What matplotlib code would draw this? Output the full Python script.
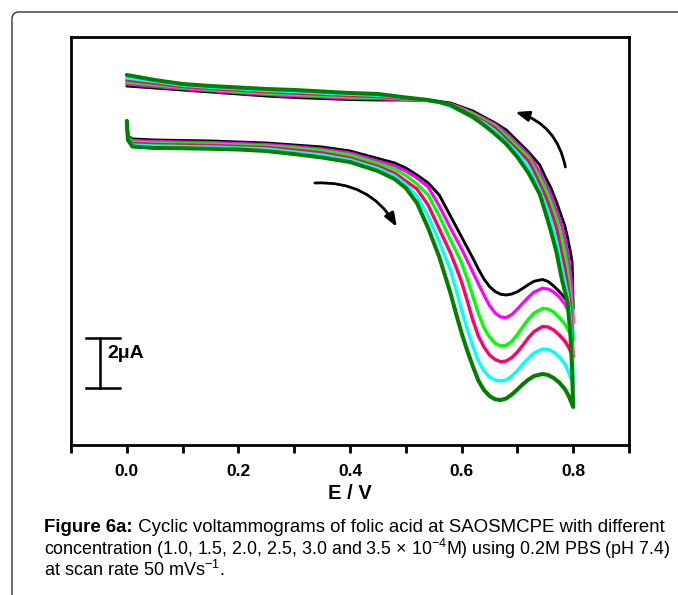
import matplotlib
matplotlib.use("Agg")
import matplotlib.pyplot as plt
from matplotlib.patches import FancyBboxPatch
from matplotlib.ticker import MultipleLocator

plt.rcParams['font.family'] = ['Liberation Sans', 'DejaVu Sans']
plt.rcParams['mathtext.fontset'] = 'custom'
plt.rcParams['mathtext.rm'] = 'Liberation Sans'
plt.rcParams['mathtext.default'] = 'regular'

# potential sweep (V): 0 -> 0.8 V (forward), then back to 0 V
E_scan = [0.0, 0.002, 0.01, 0.05, 0.1, 0.15, 0.2, 0.25, 0.3, 0.35, 0.4, 0.45, 0.48,
          0.5, 0.52, 0.54, 0.56, 0.58, 0.59, 0.60, 0.61, 0.62, 0.63, 0.64, 0.65,
          0.66, 0.67, 0.68, 0.69, 0.70, 0.71, 0.72, 0.73, 0.745, 0.755, 0.765,
          0.775, 0.785, 0.792, 0.80,
          0.798, 0.795, 0.79, 0.785, 0.78, 0.77, 0.76, 0.75, 0.74, 0.72, 0.70,
          0.68, 0.66, 0.64, 0.62, 0.60, 0.58, 0.56, 0.54, 0.50, 0.45, 0.40, 0.35,
          0.30, 0.25, 0.20, 0.15, 0.10, 0.05, 0.0]

# folic acid concentration (x 10^-4 M)
conc = [1.0, 1.5, 2.0, 2.5, 3.0, 3.5]

# current (uA, arbitrary offset) for each concentration
I_1_0 = [12.96, 12.36, 12.24, 12.20, 12.18, 12.16, 12.12, 12.08, 12.00, 11.92, 11.76, 11.46, 11.28,
         11.08, 10.80, 10.48, 10.00, 9.16, 8.74, 8.32, 7.90, 7.48, 7.04, 6.64, 6.34,
         6.14, 6.03, 6.00, 6.04, 6.13, 6.27, 6.42, 6.55, 6.62, 6.54, 6.36,
         6.14, 5.88, 5.70, 5.48,
         7.32, 7.72, 8.28, 8.76, 9.08, 9.72, 10.28, 10.72, 11.20, 11.72, 12.16,
         12.60, 12.88, 13.12, 13.36, 13.52, 13.68, 13.74, 13.78, 13.80, 13.80, 13.82, 13.86,
         13.90, 13.96, 14.04, 14.12, 14.20, 14.28, 14.36]
I_1_5 = [12.96, 12.32, 12.18, 12.14, 12.12, 12.10, 12.06, 12.02, 11.94, 11.84, 11.68, 11.36, 11.16,
         10.96, 10.68, 10.32, 9.56, 8.68, 8.26, 7.84, 7.38, 6.92, 6.45, 6.00, 5.58,
         5.28, 5.12, 5.10, 5.22, 5.44, 5.68, 5.92, 6.12, 6.27, 6.24, 6.12,
         5.92, 5.64, 5.32, 4.88,
         6.16, 6.92, 7.68, 8.24, 8.72, 9.36, 10.00, 10.44, 10.92, 11.60, 12.04,
         12.48, 12.82, 13.06, 13.29, 13.48, 13.64, 13.72, 13.78, 13.82, 13.85, 13.87, 13.92,
         13.96, 14.02, 14.09, 14.17, 14.25, 14.34, 14.44]
I_2_0 = [12.96, 12.28, 12.12, 12.08, 12.06, 12.04, 12.00, 11.96, 11.88, 11.78, 11.60, 11.26, 11.04,
         10.78, 10.44, 10.00, 9.16, 8.20, 7.76, 7.28, 6.66, 5.96, 5.26, 4.70, 4.32,
         4.07, 3.96, 3.99, 4.15, 4.42, 4.74, 5.04, 5.28, 5.46, 5.44, 5.32,
         5.10, 4.84, 4.56, 4.20,
         5.24, 6.12, 7.00, 7.68, 8.20, 9.04, 9.68, 10.24, 10.68, 11.48, 11.92,
         12.36, 12.76, 13.00, 13.24, 13.44, 13.62, 13.72, 13.78, 13.84, 13.90, 13.92, 13.97,
         14.02, 14.07, 14.14, 14.22, 14.30, 14.41, 14.52]
I_2_5 = [12.96, 12.24, 12.06, 12.02, 12.00, 11.98, 11.94, 11.90, 11.80, 11.68, 11.48, 11.14, 10.88,
         10.56, 10.24, 9.60, 8.64, 7.68, 7.12, 6.52, 5.78, 5.00, 4.36, 3.92, 3.60,
         3.42, 3.33, 3.36, 3.50, 3.72, 4.00, 4.30, 4.54, 4.74, 4.72, 4.60,
         4.40, 4.16, 3.90, 3.52,
         4.48, 5.60, 6.36, 7.08, 7.60, 8.68, 9.36, 9.96, 10.44, 11.36, 11.80,
         12.24, 12.68, 12.94, 13.16, 13.40, 13.60, 13.72, 13.78, 13.86, 13.94, 13.98, 14.03,
         14.08, 14.13, 14.20, 14.26, 14.34, 14.47, 14.60]
I_3_0 = [12.96, 12.22, 12.00, 11.96, 11.94, 11.92, 11.88, 11.84, 11.72, 11.60, 11.40, 11.06, 10.76,
         10.42, 9.96, 9.16, 8.12, 7.00, 6.22, 5.40, 4.64, 3.96, 3.36, 2.96, 2.72,
         2.60, 2.56, 2.60, 2.76, 2.98, 3.24, 3.48, 3.68, 3.84, 3.82, 3.72,
         3.52, 3.24, 2.90, 2.40,
         3.88, 5.08, 6.00, 6.52, 7.08, 8.16, 9.00, 9.64, 10.20, 11.12, 11.68,
         12.12, 12.56, 12.88, 13.10, 13.34, 13.56, 13.70, 13.78, 13.88, 13.99, 14.03, 14.08,
         14.14, 14.18, 14.25, 14.31, 14.39, 14.54, 14.68]
I_3_5 = [12.96, 12.20, 11.94, 11.88, 11.87, 11.85, 11.82, 11.76, 11.64, 11.50, 11.32, 10.96, 10.64,
         10.28, 9.68, 8.68, 7.52, 6.08, 5.26, 4.48, 3.78, 3.16, 2.58, 2.20, 1.96,
         1.83, 1.80, 1.86, 2.02, 2.22, 2.44, 2.62, 2.76, 2.84, 2.80, 2.68,
         2.50, 2.24, 1.96, 1.52,
         3.08, 4.44, 5.68, 6.16, 6.60, 7.72, 8.56, 9.32, 10.04, 10.88, 11.52,
         12.04, 12.44, 12.80, 13.12, 13.36, 13.60, 13.72, 13.80, 13.90, 14.04, 14.08, 14.14,
         14.20, 14.24, 14.30, 14.36, 14.44, 14.60, 14.80]

currents = [I_1_0, I_1_5, I_2_0, I_2_5, I_3_0, I_3_5]
colors = ['#000000', '#ff00ff', '#00ff00', '#ff0066', '#00ffff', '#008000']
widths = [2.1, 2.3, 2.4, 2.4, 2.4, 2.9]
xticks = [0.0, 0.2, 0.4, 0.6, 0.8]

fig = plt.figure(figsize=(6.78, 5.95), dpi=100)
ax = fig.add_axes([71 / 678, 1 - 445 / 595, 558 / 678, 408 / 595])

for I, c, w in zip(currents, colors, widths):
    ax.plot(E_scan, I, color=c, lw=w, solid_joinstyle='round', solid_capstyle='round')

ax.set_xlim(-0.1, 0.9)
ax.set_ylim(0, 16.32)
ax.set_xticks(xticks)
ax.set_xticklabels(['%.1f' % v for v in xticks], fontweight='bold')
ax.xaxis.set_minor_locator(MultipleLocator(0.1))
ax.tick_params(axis='x', which='both', direction='out', length=6, width=2, pad=8, labelsize=12.5)
ax.set_yticks([])
for s in ax.spines.values():
    s.set_linewidth(2)
ax.set_xlabel('E / V', fontsize=14.5, fontweight='bold', labelpad=3)

# sweep direction arrows
ax.annotate('', xy=(0.484, 8.72), xytext=(0.337, 10.48),
            arrowprops=dict(arrowstyle='-|>,head_length=0.8,head_width=0.3',
                            connectionstyle='arc3,rad=-0.3', lw=2, color='k',
                            shrinkA=0, shrinkB=0))
ax.annotate('', xy=(0.696, 13.32), xytext=(0.786, 11.12),
            arrowprops=dict(arrowstyle='-|>,head_length=0.8,head_width=0.3',
                            connectionstyle='arc3,rad=0.3', lw=2, color='k',
                            shrinkA=0, shrinkB=0))

# 2 uA scale bar
ax.plot([-0.048, -0.048], [2.3, 4.3], color='k', lw=1.8)
ax.plot([-0.073, -0.013], [2.3, 2.3], color='k', lw=1.8)
ax.plot([-0.073, -0.013], [4.3, 4.3], color='k', lw=1.8)
ax.text(-0.034, 3.65, '2μA', fontsize=14, fontweight='bold', ha='left', va='center')

# outer frame with rounded corner
frame = FancyBboxPatch((0.12, -0.5), 7.5, 6.33, boxstyle='round,pad=0,rounding_size=0.07',
                       transform=fig.dpi_scale_trans, fill=False, ec='#333333', lw=1)
fig.patches.append(frame)

# caption
t = fig.text(44 / 678, 1 - 528 / 595, 'Figure 6a:', fontsize=13.4, fontweight='bold',
             va='center')
ax.annotate(' Cyclic voltammograms of folic acid at SAOSMCPE with different',
            xy=(1, 0), xycoords=t, va='bottom', ha='left', fontsize=13.4,
            annotation_clip=False)
fig.text(44 / 678, 1 - 549 / 595,
         'concentration (1.0, 1.5, 2.0, 2.5, 3.0 and 3.5 × 10$^{-4}$M) using 0.2M PBS (pH 7.4)',
         fontsize=12.9, va='center')
fig.text(44 / 678, 1 - 570 / 595, 'at scan rate 50 mVs$^{-1}$.', fontsize=13, va='center')

fig.savefig('out.png', dpi=100)
